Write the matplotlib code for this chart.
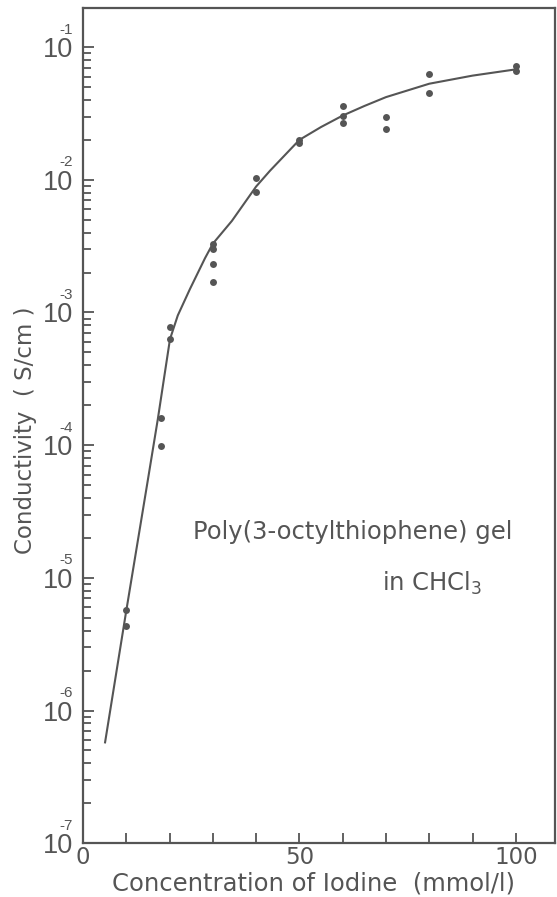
import matplotlib
matplotlib.use("Agg")
import matplotlib.pyplot as plt
from matplotlib.ticker import FixedLocator, FixedFormatter, LogLocator, NullFormatter

# measured points (concentration mmol/l, conductivity S/cm)
conc_pts = [10, 10, 18, 18, 20.2, 20.2, 30, 30, 30, 30, 40, 40,
            50, 50, 60, 60, 60, 70, 70, 80, 80, 100, 100]
cond_pts = [5.7e-6, 4.3e-6, 1.6e-4, 9.8e-5, 7.8e-4, 6.3e-4,
            3.3e-3, 3.0e-3, 2.3e-3, 1.7e-3, 1.04e-2, 8.1e-3,
            2.0e-2, 1.9e-2, 3.6e-2, 3.05e-2, 2.7e-2, 2.95e-2, 2.4e-2,
            6.3e-2, 4.5e-2, 7.2e-2, 6.6e-2]

# drawn trend curve
conc_fit = [5.1, 9.9, 15, 17.3, 18.7, 20.1, 21.9, 24.7, 28.2, 30, 34.4,
            40, 43.2, 50, 55, 60, 65, 70, 80, 90, 100]
cond_fit = [5.75e-7, 5.4e-6, 5.5e-5, 1.58e-4, 3.16e-4, 6.3e-4, 9.5e-4,
            1.5e-3, 2.57e-3, 3.3e-3, 4.9e-3, 8.9e-3, 1.17e-2, 2.0e-2,
            2.5e-2, 3.05e-2, 3.6e-2, 4.2e-2, 5.3e-2, 6.1e-2, 6.8e-2]

xticks = [0, 10, 20, 30, 40, 50, 60, 70, 80, 90, 100]
xticklabels = ['0', '', '', '', '', '50', '', '', '', '', '100']
yticks = [1e-7, 1e-6, 1e-5, 1e-4, 1e-3, 1e-2, 1e-1]
yexponents = ['-7', '-6', '-5', '-4', '-3', '-2', '-1']

ink = '#555555'
tickfont = 'Liberation Sans'

fig = plt.figure(figsize=(5.57, 8.97), dpi=100)
ax = fig.add_axes([0.149, 0.060, 0.847, 0.931])

ax.plot(conc_fit, cond_fit, color=ink, lw=1.5)
ax.plot(conc_pts, cond_pts, 'o', color=ink, ms=5, mec='none')

ax.set_yscale('log')
ax.set_xlim(0, 109)
ax.set_ylim(1e-7, 0.197)

ax.xaxis.set_major_locator(FixedLocator(xticks))
ax.xaxis.set_major_formatter(FixedFormatter(xticklabels))
ax.yaxis.set_major_locator(FixedLocator(yticks))
ax.yaxis.set_major_formatter(FixedFormatter(['10'] * len(yticks)))
ax.yaxis.set_minor_locator(LogLocator(base=10, subs=range(2, 10), numticks=20))
ax.yaxis.set_minor_formatter(NullFormatter())

ax.tick_params(axis='x', direction='in', length=7, width=1.3, color=ink,
               labelcolor=ink, labelsize=16.5, pad=2)
ax.tick_params(axis='y', which='major', direction='in', length=8, width=1.3,
               color=ink, labelcolor=ink, labelsize=19.5, pad=7)
ax.tick_params(axis='y', which='minor', direction='in', length=6, width=1.3,
               color=ink)
for lab in ax.get_yticklabels():
    lab.set_family(tickfont)
for s in ax.spines.values():
    s.set_color(ink)
    s.set_linewidth(1.6)

# exponents sit above the "0" of each "10"
for yv, ex in zip(yticks, yexponents):
    ax.annotate(ex, xy=(0, yv), xycoords=ax.get_yaxis_transform(),
                xytext=(-12.5, 12.5), textcoords='offset points',
                ha='center', va='center', fontsize=11, color=ink,
                family=tickfont)

fig.text(313 / 557, 1 - 883 / 897, 'Concentration of Iodine  (mmol/l)',
         fontsize=17.5, color=ink, ha='center', va='center')
fig.text(26 / 557, 1 - 430 / 897, 'Conductivity  ( S/cm )', fontsize=16.5,
         color=ink, ha='center', va='center', rotation=90)

ax.text(62.4, 2.2e-5, 'Poly(3-octylthiophene) gel', fontsize=17.5, color=ink,
        ha='center', va='center')
ax.text(80.6, 9.1e-6, r'in CHCl$_3$', fontsize=17.5, color=ink,
        ha='center', va='center')

fig.savefig('out.png', dpi=100)
